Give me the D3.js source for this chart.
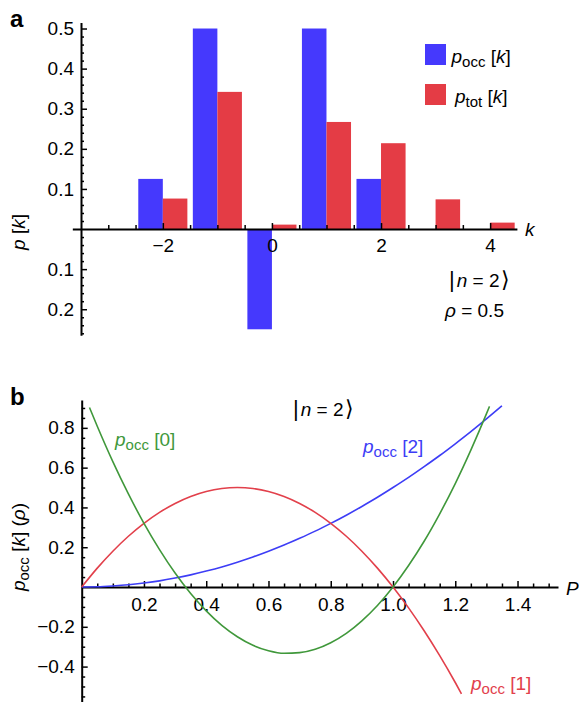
<!DOCTYPE html>
<html>
<head>
<meta charset="utf-8">
<script src="https://cdn.jsdelivr.net/npm/d3@7"></script>
<style>
  html, body { margin: 0; padding: 0; background: #fff; }
  svg { display: block; font-family: "Liberation Sans", Arial, Helvetica, sans-serif; }
  text { white-space: pre; }
</style>
</head>
<body>
<svg id="chart" width="579" height="703"></svg>
<script>
// ---- Panel a: quasi-probabilities over k for |n = 2>, rho = 0.5 ----
const kValues    = [-2, -1, 0, 1, 2, 3, 4];
const pOccValues = [0.125, 0.5, -0.25, 0.5, 0.125, 0, 0];
const pTotValues = [0.076, 0.342, 0.011, 0.267, 0.214, 0.074, 0.016];
const kTickLabels = [-2, 0, 2, 4];
const pTickLabels = [-0.2, -0.1, 0.1, 0.2, 0.3, 0.4, 0.5];

// ---- Panel b: p_occ[k] as a function of rho ----
const rhoCurve0 = [0.025, 0.05, 0.1, 0.15, 0.2, 0.25, 0.3, 0.35, 0.4, 0.45, 0.5, 0.55, 0.6, 0.65,
                   0.7, 0.75, 0.8, 0.85, 0.9, 0.95, 1.0, 1.05, 1.1, 1.15, 1.2, 1.25, 1.3, 1.31];
const pOcc0Curve = [0.902, 0.808, 0.63, 0.468, 0.32, 0.188, 0.07, -0.033, -0.12, -0.193, -0.25, -0.293, -0.32, -0.333,
                    -0.33, -0.313, -0.28, -0.233, -0.17, -0.093, 0, 0.108, 0.23, 0.368, 0.52, 0.688, 0.87, 0.908];
const rhoCurve1 = [0, 0.05, 0.1, 0.15, 0.2, 0.25, 0.3, 0.35, 0.4, 0.45, 0.5, 0.55, 0.6, 0.65,
                   0.7, 0.75, 0.8, 0.85, 0.9, 0.95, 1.0, 1.05, 1.1, 1.15, 1.2, 1.22];
const pOcc1Curve = [0, 0.095, 0.18, 0.255, 0.32, 0.375, 0.42, 0.455, 0.48, 0.495, 0.5, 0.495, 0.48, 0.455,
                    0.42, 0.375, 0.32, 0.255, 0.18, 0.095, 0, -0.105, -0.22, -0.345, -0.48, -0.537];
const rhoCurve2 = [0, 0.05, 0.1, 0.15, 0.2, 0.25, 0.3, 0.35, 0.4, 0.45, 0.5, 0.55, 0.6, 0.65,
                   0.7, 0.75, 0.8, 0.85, 0.9, 0.95, 1.0, 1.05, 1.1, 1.15, 1.2, 1.25, 1.3, 1.35];
const pOcc2Curve = [0, 0.001, 0.005, 0.011, 0.02, 0.031, 0.045, 0.061, 0.08, 0.101, 0.125, 0.151, 0.18, 0.211,
                    0.245, 0.281, 0.32, 0.361, 0.405, 0.451, 0.5, 0.551, 0.605, 0.661, 0.72, 0.781, 0.845, 0.911];
const rhoTickLabels = [0.2, 0.4, 0.6, 0.8, 1.0, 1.2, 1.4];
const occTickLabels = [-0.4, -0.2, 0.2, 0.4, 0.6, 0.8];

// ---- Styling ----
const BAR_BLUE = "#4539fd";
const BAR_RED  = "#e43c45";
const LINE_BLUE  = "#3d3df6";
const LINE_RED   = "#e2404b";
const LINE_GREEN = "#40983b";
const FONT = 19;
const SUB_FONT = 15;

const svg = d3.select("#chart");

// Text made of runs: {t, i (italic), sub (subscript), size, dx}
function richText(parent, x, y, parts, opt = {}) {
  const t = parent.append("text")
    .attr("x", x).attr("y", y)
    .attr("font-size", opt.size || FONT)
    .attr("fill", opt.fill || "#000");
  if (opt.anchor) t.attr("text-anchor", opt.anchor);
  if (opt.transform) t.attr("transform", opt.transform);
  let shift = 0;
  parts.forEach(p => {
    const s = t.append("tspan").text(p.t);
    if (p.i) s.attr("font-style", "italic");
    if (p.size) s.attr("font-size", p.size);
    if (p.dx) s.attr("dx", p.dx);
    const want = p.sub ? 4 : 0;
    if (p.sub) s.attr("font-size", SUB_FONT);
    if (want !== shift) { s.attr("dy", want - shift); shift = want; }
  });
  return t;
}

// ket |n = 2> with tall delimiters
function ket(parent, x, y) {
  return richText(parent, x, y, [
    { t: "|", size: 22, dx: 0 },
    { t: "n", i: true, dx: 2 },
    { t: " = 2" },
    { t: "⟩", size: 22, dx: 1 }
  ]);
}

function styleAxis(g) {
  g.attr("font-size", FONT).attr("font-family", null);
  g.selectAll(".domain").attr("stroke-width", 2);
  g.selectAll(".tick line").attr("stroke-width", 1.5);
  return g;
}

// ================= Panel a =================
const xA = d3.scaleLinear([-3.5, 4.5], [81, 517.4]);
const yA = d3.scaleLinear([-0.265, 0.515], [335.3, 22.5]);

const gA = svg.append("g");

// bars: p_occ left of each k, p_tot right of each k
const barHalf = 0.45;
gA.append("g").selectAll("rect.occ")
  .data(d3.zip(kValues, pOccValues))
  .join("rect")
  .attr("x", d => xA(d[0] - barHalf))
  .attr("width", d => xA(d[0]) - xA(d[0] - barHalf))
  .attr("y", d => yA(Math.max(0, d[1])))
  .attr("height", d => Math.abs(yA(d[1]) - yA(0)))
  .attr("fill", BAR_BLUE);

gA.append("g").selectAll("rect.tot")
  .data(d3.zip(kValues, pTotValues))
  .join("rect")
  .attr("x", d => xA(d[0]))
  .attr("width", d => xA(d[0] + barHalf) - xA(d[0]))
  .attr("y", d => yA(Math.max(0, d[1])))
  .attr("height", d => Math.abs(yA(d[1]) - yA(0)))
  .attr("fill", BAR_RED);

// y axis (labels show magnitudes on both sides of zero)
const yAxisA = gA.append("g").attr("transform", `translate(${xA(-3.5)},0)`)
  .call(d3.axisLeft(yA).tickValues(pTickLabels)
    .tickSizeInner(-6).tickSizeOuter(0).tickPadding(7)
    .tickFormat(d => d3.format(".1f")(Math.abs(d))));
styleAxis(yAxisA);
gA.append("g").attr("transform", `translate(${xA(-3.5)},0)`)
  .call(d3.axisLeft(yA).tickValues(d3.range(-0.26, 0.515, 0.02).filter(v => Math.abs(Math.round(v * 10) - v * 10) > 1e-6))
    .tickSizeInner(-3).tickSizeOuter(0).tickFormat(""))
  .call(g => g.select(".domain").remove())
  .call(styleAxis);

// x axis
const xAxisA = gA.append("g").attr("transform", `translate(0,${yA(0)})`)
  .call(d3.axisBottom(xA).tickValues(kTickLabels)
    .tickSizeInner(-6).tickSizeOuter(0).tickPadding(9.5)
    .tickFormat(d3.format("d")));
styleAxis(xAxisA);
xAxisA.select(".domain").remove();
gA.append("g").attr("transform", `translate(0,${yA(0)})`)
  .call(d3.axisBottom(xA).tickValues(d3.range(-3, 4.01, 0.5).filter(v => !kTickLabels.includes(v)))
    .tickSizeInner(-4).tickSizeOuter(0).tickFormat(""))
  .call(g => g.select(".domain").remove())
  .call(styleAxis);
gA.append("line")
  .attr("x1", xA(-3.65)).attr("x2", xA(4.5))
  .attr("y1", yA(0) + 0.5).attr("y2", yA(0) + 0.5)
  .attr("stroke", "#000").attr("stroke-width", 2);

// axis titles
richText(gA, 525, 236, [{ t: "k", i: true }]);
richText(gA, 0, 0, [{ t: "p", i: true }, { t: " [" }, { t: "k", i: true }, { t: "]" }],
  { anchor: "middle", transform: "translate(25,232) rotate(-90)" });

// legend
const legend = [
  { color: BAR_BLUE, sub: "occ", y: 44, tx: 451.5 },
  { color: BAR_RED,  sub: "tot", y: 84, tx: 455 }
];
legend.forEach(l => {
  gA.append("rect").attr("x", 425).attr("y", l.y).attr("width", 21).attr("height", 21).attr("fill", l.color);
  richText(gA, l.tx, l.y + 18.5, [{ t: "p", i: true }, { t: l.sub, sub: true }, { t: " [" }, { t: "k", i: true }, { t: "]" }]);
});

// state annotation
ket(gA, 449, 287);
richText(gA, 445, 317, [{ t: "ρ", i: true }, { t: " = 0.5" }]);

// panel letter
gA.append("text").attr("x", 10).attr("y", 26.5).attr("font-size", 24).attr("font-weight", "bold").text("a");

// ================= Panel b =================
const xB = d3.scaleLinear([0, 1.53], [81.7, 558]);
const yB = d3.scaleLinear([-0.576, 0.94], [701.6, 400]);

const gB = svg.append("g");

const yAxisB = gB.append("g").attr("transform", `translate(${xB(0)},0)`)
  .call(d3.axisLeft(yB).tickValues(occTickLabels)
    .tickSizeInner(-6).tickSizeOuter(0).tickPadding(7)
    .tickFormat(d3.format(".1f")));
styleAxis(yAxisB);
gB.append("g").attr("transform", `translate(${xB(0)},0)`)
  .call(d3.axisLeft(yB).tickValues(d3.range(-0.55, 0.91, 0.05).filter(v => Math.abs(v) > 1e-6 && Math.abs(Math.round(v * 5) - v * 5) > 1e-6))
    .tickSizeInner(-3.5).tickSizeOuter(0).tickFormat(""))
  .call(g => g.select(".domain").remove())
  .call(styleAxis);

const xAxisB = gB.append("g").attr("transform", `translate(0,${yB(0)})`)
  .call(d3.axisBottom(xB).tickValues(rhoTickLabels)
    .tickSizeInner(-6).tickSizeOuter(0).tickPadding(11)
    .tickFormat(d3.format(".1f")));
styleAxis(xAxisB);
gB.append("g").attr("transform", `translate(0,${yB(0)})`)
  .call(d3.axisBottom(xB).tickValues(d3.range(0.05, 1.51, 0.05).filter(v => Math.abs(Math.round(v * 5) - v * 5) > 1e-6))
    .tickSizeInner(-3.5).tickSizeOuter(0).tickFormat(""))
  .call(g => g.select(".domain").remove())
  .call(styleAxis);

// curves
const line = d3.line().x(d => xB(d[0])).y(d => yB(d[1])).curve(d3.curveMonotoneX);
const curves = [
  { xs: rhoCurve2, ys: pOcc2Curve, color: LINE_BLUE },
  { xs: rhoCurve1, ys: pOcc1Curve, color: LINE_RED },
  { xs: rhoCurve0, ys: pOcc0Curve, color: LINE_GREEN }
];
gB.append("g").selectAll("path")
  .data(curves)
  .join("path")
  .attr("d", c => line(d3.zip(c.xs, c.ys)))
  .attr("fill", "none")
  .attr("stroke", c => c.color)
  .attr("stroke-width", 1.6);

// axis titles
richText(gB, 566, 595, [{ t: "P", i: true }]);
richText(gB, 0, 0, [{ t: "p", i: true }, { t: "occ", sub: true }, { t: " [" }, { t: "k", i: true }, { t: "] (" }, { t: "ρ", i: true }, { t: ")" }],
  { anchor: "middle", transform: "translate(25,547) rotate(-90)" });

// curve labels
richText(gB, 115, 446, [{ t: "p", i: true }, { t: "occ", sub: true }, { t: " [0]" }], { fill: LINE_GREEN });
richText(gB, 363, 453, [{ t: "p", i: true }, { t: "occ", sub: true }, { t: " [2]" }], { fill: LINE_BLUE });
richText(gB, 471, 690, [{ t: "p", i: true }, { t: "occ", sub: true }, { t: " [1]" }], { fill: LINE_RED });

ket(gB, 293, 416);

gB.append("text").attr("x", 10).attr("y", 405).attr("font-size", 24).attr("font-weight", "bold").text("b");
</script>
</body>
</html>
